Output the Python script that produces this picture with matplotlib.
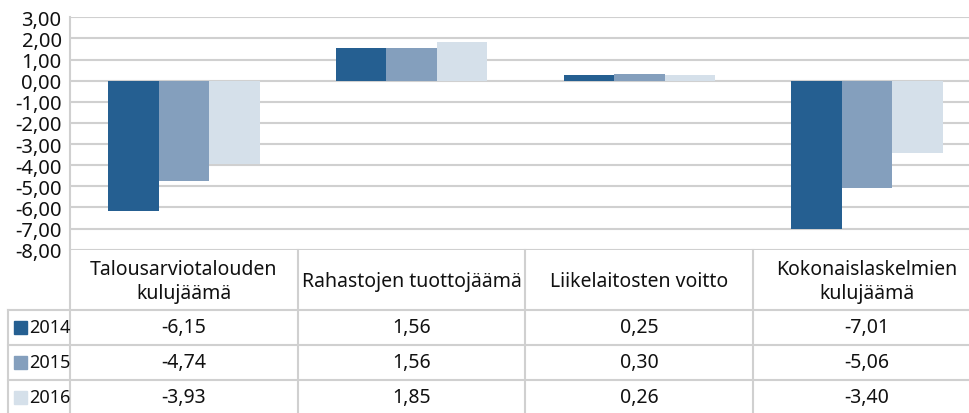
import numpy as np
import matplotlib
matplotlib.use('Agg')
import matplotlib.pyplot as plt
from matplotlib.lines import Line2D
from matplotlib.patches import Rectangle

plt.rcParams['font.family'] = ['Noto Sans', 'DejaVu Sans']

# Data
categories = ['Talousarviotalouden\nkulujäämä', 'Rahastojen tuottojäämä',
              'Liikelaitosten voitto', 'Kokonaislaskelmien\nkulujäämä']
years = ['2014', '2015', '2016']
values_2014 = [-6.15, 1.56, 0.25, -7.01]
values_2015 = [-4.74, 1.56, 0.30, -5.06]
values_2016 = [-3.93, 1.85, 0.26, -3.40]
yticks = np.arange(-8, 4, 1)

series = [values_2014, values_2015, values_2016]
colors = ['#255f91', '#849fbd', '#d5e0ea']
grid_color = '#d0d0d0'
text_color = '#111111'

W, H = 970, 414
fig = plt.figure(figsize=(W / 100, H / 100), dpi=100)


def fx(px):
    return px / W


def fy(py):
    return 1 - py / H


# plot area in pixels (right edge runs past the image, as in the reference)
left, right, top, bottom = 70, 981, 18.3, 250.7
ax = fig.add_axes([fx(left), fy(bottom), fx(right - left), (bottom - top) / H])

x = np.arange(len(categories))
bw = 0.222
for i, vals in enumerate(series):
    ax.bar(x + (i - 1) * bw, vals, bw, color=colors[i], edgecolor='none', zorder=3)

ax.set_xlim(-0.5, len(categories) - 0.5)
ax.set_ylim(-8, 3)
ax.set_yticks(yticks)
ax.set_yticklabels([f'{v:.2f}'.replace('.', ',') for v in yticks], fontsize=14.5,
                   color=text_color)
ax.tick_params(axis='y', length=0, pad=6)
ax.set_xticks([])
ax.grid(axis='y', color=grid_color, linewidth=1.5, zorder=0)
for s in ['top', 'right', 'bottom']:
    ax.spines[s].set_visible(False)
ax.spines['left'].set_color(grid_color)
ax.spines['left'].set_linewidth(1.5)

# Data table under the chart
col_w = (right - left) / len(categories)
col_edges = [left + k * col_w for k in range(len(categories) + 1)]
header_top, header_bot = bottom, 311
row_h = 35
row_tops = [header_bot + k * row_h for k in range(len(years))]


def hline(x0, x1, y):
    fig.add_artist(Line2D([fx(x0), fx(x1)], [fy(y), fy(y)], color=grid_color, lw=1.5))


def vline(xp, y0, y1):
    fig.add_artist(Line2D([fx(xp), fx(xp)], [fy(y0), fy(y1)], color=grid_color, lw=1.5))


for yp in row_tops:
    hline(8, W + 20, yp)
vline(left, bottom, H + 5)
vline(8, header_bot, H + 5)
for xp in col_edges[1:-1]:
    vline(xp, header_top, H + 5)

for j, cat in enumerate(categories):
    cx = col_edges[j] + col_w / 2
    fig.text(fx(cx), fy((header_top + header_bot) / 2 + 1), cat, ha='center', va='center',
             fontsize=14, linespacing=1.25, color=text_color)

for i, (yr, vals) in enumerate(zip(years, series)):
    cy = row_tops[i] + row_h / 2
    fig.add_artist(Rectangle((fx(14), fy(cy + 6.5)), fx(13), 13 / H,
                             color=colors[i], transform=fig.transFigure))
    fig.text(fx(29), fy(cy), yr, ha='left', va='center', fontsize=13, color=text_color)
    for j, v in enumerate(vals):
        cx = col_edges[j] + col_w / 2
        fig.text(fx(cx), fy(cy), f'{v:.2f}'.replace('.', ','), ha='center', va='center',
                 fontsize=14, color=text_color)

fig.savefig('out.png', dpi=100)
